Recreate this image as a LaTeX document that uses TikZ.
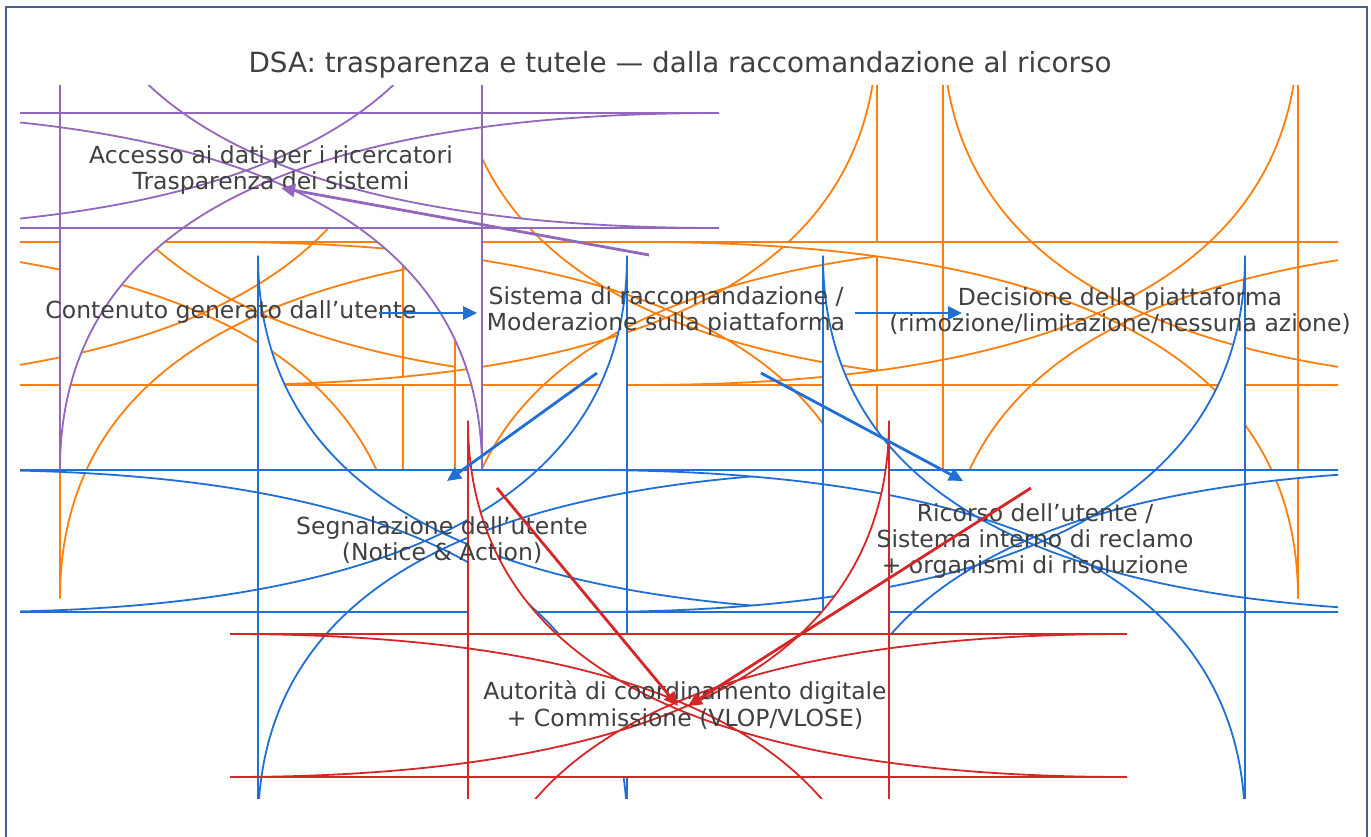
\documentclass[tikz,border=0pt]{standalone}
\usepackage{fontspec}
\setmainfont{DejaVu Sans}
\usetikzlibrary{arrows.meta}
\definecolor{cpur}{HTML}{9467BD}
\definecolor{cora}{HTML}{FF7F0E}
\definecolor{cblu}{HTML}{1F6FD6}
\definecolor{cred}{HTML}{D62728}
\definecolor{ctxt}{HTML}{404040}
\definecolor{cfrm}{HTML}{4A5F8F}
\tikzset{
  boxline/.style={line width=0.9pt, fill=white},
  lbl/.style={font=\fontsize{11.75}{13.2}\selectfont, text=ctxt, align=center, inner sep=0pt},
  flow/.style={line width=1.4pt, -{Triangle[length=7pt,width=6.5pt]}},
}
% rounded box: L R T B colour (screen pixel coordinates)
\newcommand\rbox[5]{%
 \filldraw[boxline,draw=#5] ({#1+659},#4) -- ({#2-659},#4)
  .. controls ({#2-219.667},#4) and (#2,{#4-118.833}) .. (#2,{#4-356.5})
  -- (#2,{#3+356.5})
  .. controls (#2,{#3+118.833}) and ({#2-219.667},#3) .. ({#2-659},#3)
  -- ({#1+659},#3)
  .. controls ({#1+219.667},#3) and (#1,{#3+118.833}) .. (#1,{#3+356.5})
  -- (#1,{#4-356.5})
  .. controls (#1,{#4-118.833}) and ({#1+219.667},#4) .. ({#1+659},#4) -- cycle;}
\begin{document}
\begin{tikzpicture}[x=0.5pt,y=-0.5pt]
\useasboundingbox (0,0) rectangle (1371,836);
\fill[white] (0,0) rectangle (1371,836);
\draw[cfrm, line width=1pt] (6,845) -- (6,7) -- (1367,7) -- (1367,845);

\begin{scope}
\clip (20,85) rectangle (1338,798);
\rbox{60}{403}{242}{385}{cora}
\rbox{455}{877}{242}{385}{cora}
\rbox{943}{1298}{242}{385}{cora}
\rbox{258}{627}{470}{612}{cblu}
\rbox{823}{1245}{470}{612}{cblu}
\rbox{468}{889}{634}{777}{cred}
\rbox{60}{482}{113}{228}{cpur}
\end{scope}

\node[anchor=base, font=\fontsize{13.9}{16}\selectfont, text=ctxt] (title) at (680,72)
  {DSA: trasparenza e tutele — dalla raccomandazione al ricorso};
\node[lbl] (acc) at (271,170) {Accesso ai dati per i ricercatori\\Trasparenza dei sistemi};
\node[lbl] (cont) at (231,312) {Contenuto generato dall’utente};
\node[lbl] (sist) at (666,311) {Sistema di raccomandazione /\\Moderazione sulla piattaforma};
\node[lbl] (dec) at (1120,311) {Decisione della piattaforma\\(rimozione/limitazione/nessuna azione)};
\node[lbl] (segn) at (442,540) {Segnalazione dell’utente\\(Notice \& Action)};
\node[lbl] (ric) at (1035,541) {Ricorso dell’utente /\\Sistema interno di reclamo\\+ organismi di risoluzione};
\node[lbl] (aut) at (685,705) {Autorità di coordinamento digitale\\+ Commissione (VLOP/VLOSE)};

\coordinate (a1s) at (379,313); \coordinate (a1e) at (477,313);
\coordinate (a2s) at (855,313); \coordinate (a2e) at (962,313);
\coordinate (a3s) at (597,373); \coordinate (a3e) at (447,481);
\coordinate (a4s) at (761,373); \coordinate (a4e) at (963,481);
\coordinate (a5s) at (649,255); \coordinate (a5e) at (281,188);
\coordinate (a6s) at (497,488); \coordinate (a6e) at (678,706);
\coordinate (a7s) at (1031,488); \coordinate (a7e) at (688,706);

\draw[flow, cblu] (a1s) -- (a1e);
\draw[flow, cblu] (a2s) -- (a2e);
\draw[flow, cblu] (a3s) -- (a3e);
\draw[flow, cblu] (a4s) -- (a4e);
\draw[flow, cpur] (a5s) -- (a5e);
\draw[flow, cred] (a6s) -- (a6e);
\draw[flow, cred] (a7s) -- (a7e);
\end{tikzpicture}
\end{document}
